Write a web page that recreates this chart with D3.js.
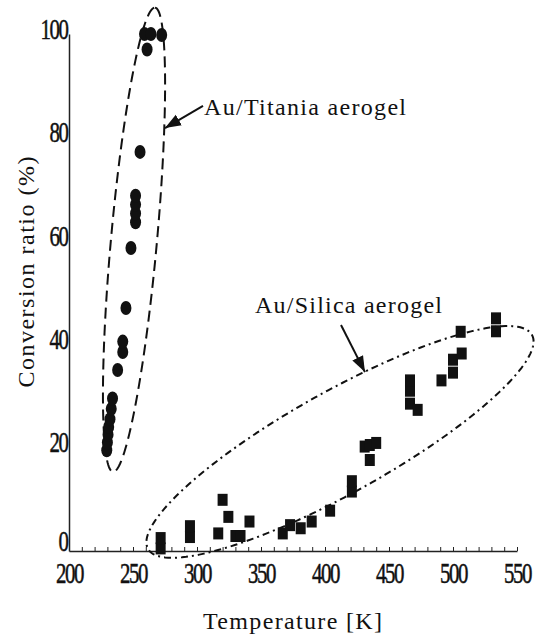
<!DOCTYPE html>
<html>
<head>
<meta charset="utf-8">
<script src="https://cdn.jsdelivr.net/npm/d3@7/dist/d3.min.js"></script>
<style>
  body { margin: 0; background: #fff; }
  svg { display: block; }
  text { font-family: "Liberation Serif", "DejaVu Serif", serif; fill: #111; }
</style>
</head>
<body>
<svg id="chart"></svg>
<script>
// Au/Titania aerogel: [temperature K, conversion %]
const titania = [
  [229.5, 19.5], [230, 21], [230.5, 22.5], [231, 24], [232, 25.5], [233, 27.5], [234, 29.5],
  [238, 35], [242, 38.5], [242, 40.5], [244.5, 47], [248.4, 58.6],
  [252, 63.6], [252, 65.3], [252, 67], [252, 68.7], [255.5, 77.2],
  [259, 100], [264, 100], [272.4, 99.8], [261, 97]
];

// Au/Silica aerogel: [temperature K, conversion %]
const silica = [
  [271.6, 0.5], [271.6, 2.5], [294.5, 2.7], [294.5, 4.8], [316.6, 3.4], [320, 9.9], [324.5, 6.6],
  [330, 2.9], [334, 2.9], [341, 5.7], [367, 3.4], [372.7, 5], [381, 4.4], [389.6, 5.7],
  [404, 7.8], [421, 11.5], [421, 13.5], [431, 20.2], [435, 20.5], [440, 20.9], [435, 17.6],
  [466.4, 28.5], [466.4, 31], [466.4, 33], [472.4, 27.3], [491, 33], [500, 34.5], [500, 37],
  [506.8, 38.2], [506, 42.4], [533.6, 42.5], [533.6, 45]
];

const xTicks = [200, 250, 300, 350, 400, 450, 500, 550];
const yTicks = [0, 20, 40, 60, 80, 100];

// grouping ellipses: centre, major half axis, minor half axis (data units)
const groupEllipses = [
  { c: [250.8, 60.2], u: [16.4, 44.9], w: [17.9, -0.4], dash: "11,6" },
  { c: [411.7, 21.1], u: [150, 20.7], w: [19.4, -8.6], dash: "7,4,2,4" }
];

// labels with arrows (data units)
const labels = [
  { text: "Au/Titania aerogel", at: [305.5, 84.3], len: 202, from: [304.7, 86.1], to: [275, 81.8] },
  { text: "Au/Silica aerogel", at: [345.3, 46], len: 187, from: [412.5, 43.7], to: [431.2, 34.6] }
];

const width = 538, height = 637;
const svg = d3.select("#chart").attr("width", width).attr("height", height);

const x = d3.scaleLinear().domain([200, 550]).range([69, 517]);
const y = d3.scaleLinear().domain([0, 100]).range([551, 34]);

svg.append("defs").append("marker")
  .attr("id", "head")
  .attr("markerUnits", "userSpaceOnUse")
  .attr("markerWidth", 18).attr("markerHeight", 14)
  .attr("refX", 16).attr("refY", 7)
  .attr("orient", "auto")
  .append("path")
  .attr("d", "M0,1 L16,7 L0,13 Z")
  .attr("fill", "#111");

function tickText(g) {
  g.selectAll("text")
    .attr("font-family", "Liberation Serif")
    .attr("font-size", 29)
    .attr("letter-spacing", -2)
    .attr("fill", "#111")
    .attr("stroke", "#111")
    .attr("stroke-width", 0.5)
    .attr("transform", "scale(0.72,1)");
}

// minor ticks on x
svg.append("g")
  .attr("transform", `translate(0,${y(0)})`)
  .call(d3.axisBottom(x).tickValues(d3.range(200, 551, 10)).tickSizeInner(-4).tickSizeOuter(0).tickFormat(""))
  .call(g => g.selectAll("line").attr("stroke", "#222"))
  .call(g => g.select(".domain").attr("stroke", "#222").attr("stroke-width", 1.5));

// x labels
svg.append("g")
  .attr("transform", `translate(0,${y(0)})`)
  .call(d3.axisBottom(x).tickValues(xTicks).tickSize(0).tickPadding(11))
  .call(g => g.select(".domain").remove())
  .call(tickText);

// y axis
svg.append("g")
  .attr("transform", `translate(${x(200)},0)`)
  .call(d3.axisLeft(y).tickValues(yTicks).tickSize(0).tickPadding(2))
  .call(g => g.select(".domain").attr("stroke", "#222").attr("stroke-width", 1.5))
  .call(tickText)
  .call(g => g.selectAll("text").attr("dy", d => d === 0 ? "-0.02em" : "0.15em"));

// axis titles
svg.append("text")
  .attr("x", (203 + 382) / 2).attr("y", 629)
  .attr("text-anchor", "middle")
  .attr("font-size", 24)
  .attr("textLength", 179).attr("lengthAdjust", "spacing")
  .text("Temperature [K]");

svg.append("text")
  .attr("transform", "translate(34,272) rotate(-90)")
  .attr("text-anchor", "middle")
  .attr("font-size", 24)
  .attr("textLength", 231).attr("lengthAdjust", "spacing")
  .text("Conversion ratio (%)");

// ellipses around each group
const line = d3.line().curve(d3.curveLinearClosed);
groupEllipses.forEach(e => {
  const pts = d3.range(0, 360, 2).map(a => {
    const t = a * Math.PI / 180;
    const T = e.c[0] + e.u[0] * Math.cos(t) + e.w[0] * Math.sin(t);
    const v = e.c[1] + e.u[1] * Math.cos(t) + e.w[1] * Math.sin(t);
    return [x(T), y(v)];
  });
  svg.append("path")
    .attr("d", line(pts))
    .attr("fill", "none")
    .attr("stroke", "#111")
    .attr("stroke-width", 2)
    .attr("stroke-dasharray", e.dash);
});

// markers
svg.append("g").selectAll("ellipse")
  .data(titania)
  .join("ellipse")
  .attr("cx", d => x(d[0]))
  .attr("cy", d => y(d[1]))
  .attr("rx", 5.5).attr("ry", 7)
  .attr("fill", "#111");

svg.append("g").selectAll("rect")
  .data(silica)
  .join("rect")
  .attr("x", d => x(d[0]) - 5)
  .attr("y", d => y(d[1]) - 6)
  .attr("width", 10).attr("height", 12)
  .attr("fill", "#111");

// labels + arrows
labels.forEach(l => {
  svg.append("text")
    .attr("x", x(l.at[0])).attr("y", y(l.at[1]))
    .attr("font-size", 24)
    .attr("textLength", l.len).attr("lengthAdjust", "spacing")
    .text(l.text);
  svg.append("line")
    .attr("x1", x(l.from[0])).attr("y1", y(l.from[1]))
    .attr("x2", x(l.to[0])).attr("y2", y(l.to[1]))
    .attr("stroke", "#111")
    .attr("stroke-width", 2)
    .attr("marker-end", "url(#head)");
});
</script>
</body>
</html>
